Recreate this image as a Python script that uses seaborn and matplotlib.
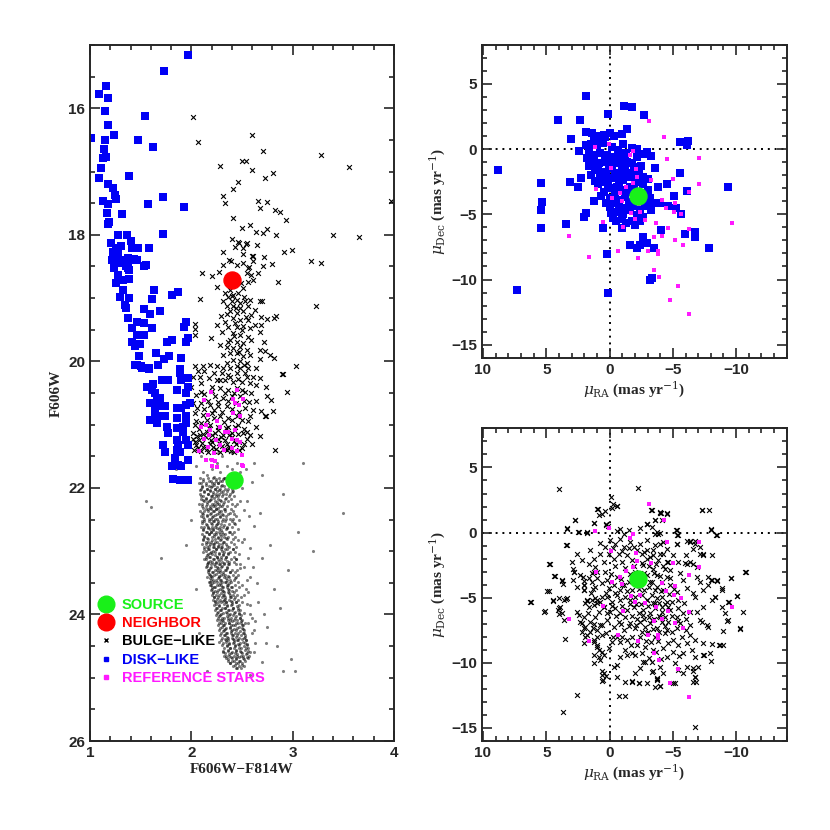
import numpy as np
import pandas as pd
import matplotlib
matplotlib.use('Agg')
import matplotlib.pyplot as plt
from matplotlib.ticker import MultipleLocator
from matplotlib.lines import Line2D
import seaborn as sns

# source / neighbor
src_col, src_mag = 2.42, 21.88
nb_col, nb_mag = 2.40, 18.71
src_pmra, src_pmdec = -2.26, -3.57

# disk-like stars in the CMD (color, mag)
disk_cmd = [
    (1.97, 15.16), (1.73, 15.41), (1.155, 15.65), (1.086, 15.78), (1.18, 15.84), (1.15, 16.04),
    (1.545, 16.12), (1.175, 16.26), (1.013, 16.47), (1.237, 16.42), (1.15, 16.5), (1.47, 16.5),
    (1.62, 16.61), (1.14, 16.64), (1.13, 16.79), (1.155, 16.77), (1.11, 16.95), (1.39, 17.07),
    (1.09, 17.1), (1.175, 17.2), (1.23, 17.26), (1.25, 17.37), (1.26, 17.44), (1.128, 17.46),
    (1.18, 17.52), (1.72, 17.41), (1.57, 17.52), (1.93, 17.56), (1.32, 17.67), (1.17, 17.66),
    (1.19, 17.8), (1.18, 17.83), (1.72, 17.99), (1.28, 18.01), (1.37, 18.0), (1.21, 18.13),
    (1.31, 18.18), (1.40, 18.1), (1.47, 18.21), (1.58, 18.21), (1.26, 18.21), (1.41, 18.21),
    (1.23, 18.27), (1.25, 18.29), (1.28, 18.29), (1.22, 18.4), (1.30, 18.4), (1.39, 18.4),
    (1.46, 18.4), (1.25, 18.42), (1.30, 18.45), (1.38, 18.37), (1.43, 18.39), (1.55, 18.48),
    (1.24, 18.5), (1.36, 18.5), (1.53, 18.5), (1.24, 18.53), (1.38, 18.53), (1.39, 18.55),
    (1.28, 18.63), (1.33, 18.71), (1.39, 18.70), (1.26, 18.76), (1.63, 18.88), (1.81, 18.95),
    (1.87, 18.91), (1.61, 19.02), (1.33, 18.87), (1.30, 18.98), (1.39, 19.0), (1.35, 19.11),
    (1.36, 19.16), (1.53, 19.18), (1.59, 19.25), (1.69, 19.21), (1.38, 19.32), (1.46, 19.37),
    (1.53, 19.40), (1.61, 19.47), (1.41, 19.47), (1.95, 19.37), (1.93, 19.45), (1.46, 19.58),
    (1.53, 19.58), (1.41, 19.69), (1.49, 19.72), (1.44, 19.76), (1.76, 19.70), (1.81, 19.67),
    (1.97, 19.63), (1.95, 19.70), (1.48, 19.91), (1.65, 19.86), (1.78, 19.91), (1.73, 19.97),
    (1.90, 19.95), (1.44, 20.06), (1.50, 20.08), (1.585, 20.11), (1.67, 20.06), (1.89, 20.12),
    (1.46, 20.06), (1.51, 20.11), (1.58, 20.12), (1.71, 20.29), (1.62, 20.35), (1.77, 20.29),
    (1.89, 20.19), (1.90, 20.29), (1.97, 20.27), (1.56, 20.40), (1.61, 20.45), (1.64, 20.50),
    (1.66, 20.58), (1.69, 20.58), (1.855, 20.45), (1.95, 20.50), (1.97, 20.40), (1.59, 20.66),
    (1.64, 20.69), (1.69, 20.71), (1.74, 20.71), (1.855, 20.74), (1.90, 20.74), (1.95, 20.69),
    (1.986, 20.66), (1.64, 20.82), (1.67, 20.87), (1.74, 20.87), (1.855, 20.90), (1.95, 20.87),
    (1.59, 20.92), (1.66, 20.98), (1.76, 21.03), (1.77, 21.13), (1.855, 21.06), (1.92, 21.03),
    (1.95, 20.98), (1.92, 21.11), (1.72, 21.32), (1.74, 21.43), (1.855, 21.24), (1.87, 21.32),
    (1.95, 21.24), (1.97, 21.32), (1.855, 21.40), (1.89, 21.43), (1.84, 21.53), (1.97, 21.56),
    (1.87, 21.64), (1.81, 21.66), (1.90, 21.66), (1.82, 21.86), (1.89, 21.87), (1.97, 21.87),
]

# bulge-like stars in the CMD
bulge_cmd = [
    (2.02, 16.14), (2.065, 16.53), (2.60, 16.42), (2.71, 16.67), (3.28, 16.74), (3.56, 16.93),
    (2.28, 16.92), (2.50, 16.84), (2.535, 16.84), (2.60, 16.98), (2.805, 17.02), (2.73, 17.1),
    (2.46, 17.16), (2.41, 17.27), (2.31, 17.38), (2.335, 17.49), (2.66, 17.46), (2.745, 17.48),
    (2.68, 17.57), (3.975, 17.46), (2.83, 17.61), (2.88, 17.64), (2.93, 17.76), (2.41, 17.74),
    (2.50, 17.89), (2.575, 17.84), (2.745, 17.91), (2.64, 17.96), (2.71, 17.97), (2.84, 18.0),
    (3.40, 18.01), (3.65, 18.03), (2.40, 18.07), (2.46, 18.11), (2.545, 18.13), (2.65, 18.16),
    (2.31, 18.27), (2.51, 18.21), (2.43, 18.19), (2.91, 18.27), (2.995, 18.24), (2.60, 18.34),
    (2.72, 18.35), (2.37, 18.40), (2.45, 18.48), (2.57, 18.51), (2.71, 18.49), (2.80, 18.46),
    (3.18, 18.41), (3.28, 18.45), (2.11, 18.6), (2.20, 18.65), (2.27, 18.59), (2.47, 18.13),
    (2.535, 18.14), (2.51, 18.30), (2.61, 18.34), (2.39, 18.41), (2.51, 18.44), (2.56, 18.53),
    (2.61, 18.42), (2.31, 18.47), (2.545, 18.60), (2.59, 18.63), (2.66, 18.61), (2.495, 18.76),
    (2.56, 18.74), (2.61, 18.71), (2.255, 18.82), (2.86, 18.74), (2.51, 18.84), (2.38, 18.87),
    (2.33, 18.92), (2.36, 18.98), (2.41, 18.95), (2.46, 18.92), (2.31, 19.05), (2.40, 19.05),
    (2.45, 19.03), (2.48, 19.08), (2.53, 19.05), (2.58, 19.03), (2.68, 19.05), (2.70, 19.05),
    (2.35, 19.13), (2.41, 19.13), (2.48, 19.16), (2.56, 19.13), (2.63, 19.19), (2.38, 19.21),
    (2.45, 19.24), (2.51, 19.21), (2.59, 19.26), (2.29, 19.28), (2.69, 19.30), (2.75, 19.33),
    (2.82, 19.31), (3.23, 19.12), (2.085, 19.02), (2.41, 19.32), (2.48, 19.34), (2.56, 19.34),
    (2.33, 19.37), (2.25, 19.42), (2.63, 19.42), (2.69, 19.42), (2.36, 19.45), (2.45, 19.46),
    (2.51, 19.44), (2.58, 19.48), (2.30, 19.53), (2.41, 19.55), (2.48, 19.58), (2.56, 19.61),
    (2.59, 19.66), (2.38, 19.66), (2.45, 19.69), (2.51, 19.71), (2.28, 19.74), (2.35, 19.77),
    (2.41, 19.79), (2.48, 19.77), (2.545, 19.82), (2.58, 19.90), (2.38, 19.87), (2.45, 19.87),
    (2.31, 19.90), (2.51, 19.92), (2.41, 19.98), (2.48, 20.0), (2.35, 20.03), (2.545, 20.03),
    (2.45, 20.07), (2.68, 19.53), (2.72, 19.69), (2.68, 19.82), (2.73, 19.84), (2.78, 19.90),
    (2.815, 19.95), (2.19, 19.63), (2.035, 19.41), (2.035, 19.49), (2.035, 19.58), (2.68, 19.97),
    (3.03, 20.07), (2.035, 20.07), (2.12, 20.07), (2.18, 20.05), (2.25, 20.08), (2.31, 20.11),
    (2.38, 20.11), (2.48, 20.11), (2.56, 20.11), (2.64, 20.11), (2.07, 20.16), (2.13, 20.16),
    (2.22, 20.19), (2.30, 20.19), (2.36, 20.21), (2.45, 20.19), (2.53, 20.19), (2.61, 20.24),
    (2.68, 20.27), (2.02, 20.25), (2.085, 20.24), (2.17, 20.27), (2.25, 20.29), (2.33, 20.29),
    (2.41, 20.32), (2.50, 20.32), (2.58, 20.34), (2.64, 20.38), (2.74, 20.41), (2.00, 20.40),
    (2.10, 20.34), (2.20, 20.40), (2.28, 20.42), (2.36, 20.45), (2.45, 20.42), (2.53, 20.48),
    (2.59, 20.50), (2.05, 20.53), (2.13, 20.51), (2.23, 20.55), (2.31, 20.58), (2.40, 20.55),
    (2.48, 20.55), (2.57, 20.65), (2.64, 20.63), (2.75, 20.54), (2.94, 20.48), (2.89, 20.20),
    (2.02, 20.66), (2.10, 20.66), (2.18, 20.69), (2.265, 20.71), (2.35, 20.71), (2.53, 20.74),
    (2.61, 20.77), (2.69, 20.79), (2.74, 20.87), (2.035, 20.82), (2.12, 20.84), (2.20, 20.82),
    (2.28, 20.87), (2.36, 20.90), (2.45, 20.87), (2.58, 20.87), (2.035, 21.0), (2.10, 20.98),
    (2.18, 21.0), (2.265, 21.03), (2.36, 21.03), (2.46, 21.0), (2.56, 20.95), (2.64, 21.03),
    (2.02, 21.13), (2.085, 21.16), (2.15, 21.11), (2.23, 21.13), (2.31, 21.16), (2.40, 21.13),
    (2.51, 21.13), (2.58, 21.16), (2.68, 21.18), (2.79, 20.61), (2.02, 21.22), (2.08, 21.25),
    (2.14, 21.2), (2.20, 21.27), (2.26, 21.22), (2.33, 21.25), (2.40, 21.2), (2.47, 21.28),
    (2.55, 21.23), (2.05, 21.32), (2.12, 21.35), (2.18, 21.3), (2.24, 21.38), (2.30, 21.33),
    (2.37, 21.36), (2.44, 21.31), (2.50, 21.37), (2.03, 21.4), (2.10, 21.42), (2.16, 21.44),
    (2.22, 21.41), (2.28, 21.43), (2.35, 21.4), (2.42, 21.44), (2.60, 21.3), (2.83, 21.4),
    (2.73, 20.87), (2.81, 20.78), (2.90, 20.2), (2.84, 19.29),
    (2.05, 20.95), (2.15, 20.93), (2.22, 20.9), (2.32, 20.96), (2.40, 20.93), (2.50, 20.92),
    (2.08, 21.07), (2.17, 21.05), (2.26, 21.08), (2.34, 21.06), (2.43, 21.04), (2.52, 21.07),
    (2.06, 21.18), (2.12, 21.14), (2.20, 21.17), (2.29, 21.19), (2.37, 21.17), (2.46, 21.15),
    (2.55, 21.12), (2.04, 21.28), (2.11, 21.29), (2.19, 21.24), (2.27, 21.29), (2.35, 21.3),
    (2.42, 21.26), (2.52, 21.3), (2.07, 21.37), (2.15, 21.39), (2.21, 21.35), (2.33, 21.38),
    (2.39, 21.41), (2.47, 21.4), (2.13, 20.75), (2.22, 20.77), (2.30, 20.8), (2.40, 20.76),
    (2.47, 20.8), (2.06, 20.74), (2.16, 20.62), (2.26, 20.64), (2.36, 20.62), (2.44, 20.66),
    (2.52, 20.62), (2.10, 20.48), (2.20, 20.47), (2.33, 20.5), (2.42, 20.5), (2.50, 20.45),
    (2.28, 20.3), (2.38, 20.25), (2.46, 20.28), (2.55, 20.25), (2.42, 19.6), (2.36, 19.7),
    (2.50, 19.5), (2.43, 19.4), (2.54, 19.3), (2.44, 19.15), (2.40, 18.97), (2.52, 18.98),
    (2.35, 19.25), (2.47, 19.85), (2.52, 20.05),
]

# reference stars in the CMD
ref_cmd = [
    (2.19, 20.49), (2.13, 20.61), (2.45, 20.45), (2.41, 20.60), (2.43, 20.66), (2.51, 20.60),
    (2.47, 20.69), (2.167, 20.845), (2.25, 20.95), (2.144, 21.0), (2.18, 21.08), (2.10, 21.03),
    (2.41, 20.82), (2.48, 20.87), (2.28, 21.03), (2.33, 21.11), (2.36, 21.11), (2.43, 21.08),
    (2.17, 21.16), (2.24, 21.24), (2.13, 21.23), (2.28, 21.32), (2.40, 21.23), (2.45, 21.24),
    (2.48, 21.27), (2.16, 21.36), (2.08, 21.42), (2.22, 21.45), (2.32, 21.40), (2.40, 21.37),
    (2.45, 21.42), (2.50, 21.48), (2.20, 21.56), (2.144, 21.56), (2.23, 21.58), (2.20, 21.65),
    (2.25, 21.67), (2.50, 21.63), (2.51, 21.66),
]

# faint field stars: (mag, colors at that mag)
field_rows = [
    (21.86, [2.12, 2.24, 2.31]), (21.89, [2.17, 2.28]), (21.92, [2.10, 2.20, 2.26, 2.36]),
    (21.95, [2.14, 2.22, 2.30]), (21.98, [2.11, 2.19, 2.25]), (22.01, [2.15, 2.23, 2.33]),
    (22.04, [2.09, 2.18, 2.27]), (22.07, [2.13, 2.21, 2.29, 2.40]), (22.10, [2.16, 2.24, 2.31]),
    (22.13, [2.10, 2.19, 2.26]), (22.16, [2.14, 2.22, 2.34]), (22.19, [2.12, 2.18, 2.28]),
    (22.22, [2.15, 2.25, 2.32]), (22.25, [2.11, 2.20, 2.27, 2.45]), (22.28, [2.14, 2.23, 2.30]),
    (22.31, [2.12, 2.18, 2.26]), (22.34, [2.16, 2.24, 2.33]), (22.37, [2.13, 2.21, 2.29]),
    (22.40, [2.11, 2.19, 2.27, 2.38]), (22.43, [2.15, 2.23, 2.31]), (22.46, [2.12, 2.20, 2.28]),
    (22.49, [2.17, 2.25, 2.34]), (22.52, [2.13, 2.21, 2.30]), (22.55, [2.11, 2.19, 2.26, 2.42]),
    (22.58, [2.15, 2.24, 2.32]), (22.61, [2.13, 2.20, 2.28]), (22.64, [2.16, 2.25, 2.35]),
    (22.67, [2.12, 2.21, 2.29]), (22.70, [2.14, 2.19, 2.27, 2.37]), (22.73, [2.17, 2.24, 2.31]),
    (22.76, [2.13, 2.22, 2.29]), (22.79, [2.15, 2.26, 2.34]), (22.82, [2.12, 2.20, 2.28, 2.46]),
    (22.85, [2.16, 2.23, 2.32]), (22.88, [2.14, 2.21, 2.30]), (22.91, [2.17, 2.26, 2.35]),
    (22.94, [2.13, 2.22, 2.29]), (22.97, [2.16, 2.24, 2.33, 2.41]), (23.00, [2.14, 2.21, 2.30]),
    (23.03, [2.18, 2.27, 2.36]), (23.06, [2.15, 2.23, 2.31]), (23.09, [2.17, 2.25, 2.34]),
    (23.12, [2.14, 2.22, 2.29, 2.44]), (23.15, [2.18, 2.27, 2.35]), (23.18, [2.16, 2.24, 2.32]),
    (23.21, [2.19, 2.28, 2.37]), (23.24, [2.15, 2.23, 2.30]), (23.27, [2.18, 2.26, 2.35, 2.48]),
    (23.30, [2.16, 2.25, 2.33]), (23.33, [2.20, 2.28, 2.38]), (23.36, [2.17, 2.24, 2.31]),
    (23.39, [2.19, 2.27, 2.36]), (23.42, [2.18, 2.26, 2.34, 2.43]), (23.45, [2.21, 2.29, 2.38]),
    (23.48, [2.18, 2.25, 2.33]), (23.51, [2.20, 2.28, 2.37]), (23.54, [2.19, 2.27, 2.35, 2.50]),
    (23.57, [2.22, 2.30, 2.39]), (23.60, [2.20, 2.28, 2.36]), (23.63, [2.23, 2.31, 2.40]),
    (23.66, [2.21, 2.29, 2.37]), (23.69, [2.24, 2.32, 2.41, 2.52]), (23.72, [2.22, 2.30, 2.38]),
    (23.75, [2.25, 2.33, 2.42]), (23.78, [2.23, 2.31, 2.39]), (23.81, [2.26, 2.34, 2.44]),
    (23.84, [2.24, 2.32, 2.40, 2.55]), (23.87, [2.27, 2.35, 2.45]), (23.90, [2.25, 2.33, 2.41]),
    (23.93, [2.28, 2.37, 2.46]), (23.96, [2.26, 2.34, 2.43]), (23.99, [2.29, 2.38, 2.47, 2.58]),
    (24.02, [2.27, 2.35, 2.44]), (24.05, [2.30, 2.39, 2.48]), (24.08, [2.28, 2.36, 2.45]),
    (24.11, [2.31, 2.40, 2.49]), (24.14, [2.29, 2.37, 2.46, 2.56]), (24.17, [2.32, 2.41, 2.50]),
    (24.20, [2.30, 2.38, 2.47]), (24.23, [2.33, 2.42, 2.51]), (24.26, [2.31, 2.39, 2.48]),
    (24.29, [2.34, 2.43, 2.52, 2.60]), (24.32, [2.32, 2.40, 2.49]), (24.35, [2.35, 2.44, 2.53]),
    (24.38, [2.33, 2.41, 2.50]), (24.41, [2.36, 2.45, 2.54]), (24.44, [2.27, 2.34, 2.42, 2.51]),
    (24.47, [2.37, 2.46, 2.55]), (24.50, [2.35, 2.43, 2.52]), (24.53, [2.38, 2.47, 2.56]),
    (24.56, [2.36, 2.44, 2.53]), (24.59, [2.31, 2.40, 2.49, 2.58]), (24.62, [2.37, 2.45, 2.54]),
    (24.65, [2.34, 2.42, 2.51]), (24.68, [2.39, 2.47, 2.55]), (24.71, [2.36, 2.44, 2.52]),
    (24.74, [2.40, 2.48]), (24.77, [2.38, 2.46]), (24.80, [2.43, 2.50]), (24.84, [2.45]),
    (21.85, [2.09, 2.16, 2.21, 2.27, 2.33, 2.39]), (21.89, [2.12, 2.19, 2.24, 2.30, 2.38]),
    (21.93, [2.08, 2.14, 2.22, 2.26, 2.35, 2.41]), (21.97, [2.11, 2.17, 2.20, 2.29, 2.32, 2.37]),
    (22.01, [2.10, 2.15, 2.23, 2.28, 2.36, 2.40]), (22.05, [2.13, 2.18, 2.25, 2.31, 2.35, 2.41]),
    (22.09, [2.09, 2.16, 2.21, 2.27, 2.34, 2.38]), (22.13, [2.12, 2.20, 2.24, 2.30, 2.37, 2.42]),
    (22.17, [2.10, 2.14, 2.19, 2.26, 2.33, 2.39]), (22.21, [2.13, 2.17, 2.23, 2.29, 2.36, 2.48]),
    (22.25, [2.08, 2.15, 2.22, 2.25, 2.31, 2.40]), (22.29, [2.11, 2.18, 2.21, 2.28, 2.35, 2.43]),
    (22.33, [2.14, 2.19, 2.24, 2.32, 2.39]), (22.37, [2.09, 2.16, 2.22, 2.27, 2.33, 2.41]),
    (22.41, [2.12, 2.18, 2.25, 2.30, 2.36, 2.42]), (22.45, [2.10, 2.15, 2.21, 2.28, 2.34, 2.44]),
    (22.49, [2.13, 2.19, 2.23, 2.31, 2.38, 2.41]), (22.53, [2.11, 2.17, 2.22, 2.26, 2.33, 2.40]),
    (22.57, [2.14, 2.20, 2.25, 2.29, 2.37, 2.43]), (22.61, [2.10, 2.16, 2.23, 2.31, 2.35, 2.40]),
    (22.65, [2.12, 2.18, 2.21, 2.27, 2.34, 2.46]), (22.69, [2.15, 2.19, 2.24, 2.30, 2.38, 2.42]),
    (22.73, [2.11, 2.17, 2.22, 2.28, 2.33, 2.40]), (22.77, [2.13, 2.20, 2.26, 2.32, 2.36, 2.43]),
    (22.81, [2.12, 2.16, 2.23, 2.29, 2.35, 2.41]), (22.85, [2.14, 2.19, 2.25, 2.31, 2.39, 2.50]),
    (22.89, [2.11, 2.18, 2.22, 2.27, 2.34, 2.42]), (22.93, [2.15, 2.21, 2.26, 2.30, 2.37, 2.44]),
    (22.97, [2.13, 2.17, 2.24, 2.29, 2.35, 2.41]), (23.01, [2.12, 2.19, 2.23, 2.32, 2.38, 2.43]),
    (23.05, [2.16, 2.20, 2.27, 2.31, 2.36, 2.47]), (23.09, [2.14, 2.18, 2.25, 2.29, 2.34, 2.42]),
    (23.13, [2.13, 2.21, 2.26, 2.33, 2.39, 2.44]), (23.17, [2.16, 2.20, 2.24, 2.30, 2.37, 2.42]),
    (23.21, [2.15, 2.22, 2.27, 2.32, 2.36, 2.44]), (23.25, [2.14, 2.19, 2.25, 2.29, 2.35, 2.52]),
    (23.29, [2.17, 2.23, 2.28, 2.34, 2.40, 2.45]), (23.33, [2.16, 2.21, 2.26, 2.31, 2.38, 2.43]),
    (23.37, [2.18, 2.22, 2.29, 2.33, 2.41, 2.46]), (23.41, [2.15, 2.20, 2.27, 2.32, 2.37, 2.44]),
    (23.45, [2.19, 2.24, 2.28, 2.35, 2.42, 2.55]), (23.49, [2.17, 2.22, 2.30, 2.34, 2.39, 2.46]),
    (23.53, [2.18, 2.25, 2.29, 2.36, 2.43]), (23.57, [2.20, 2.23, 2.31, 2.35, 2.40, 2.47]),
    (23.61, [2.19, 2.26, 2.30, 2.37, 2.44]), (23.65, [2.21, 2.25, 2.32, 2.36, 2.42, 2.56]),
    (23.69, [2.20, 2.27, 2.31, 2.38, 2.45]), (23.73, [2.22, 2.26, 2.33, 2.39, 2.43, 2.49]),
    (23.77, [2.21, 2.28, 2.32, 2.37, 2.46]), (23.81, [2.23, 2.29, 2.34, 2.40, 2.44, 2.50]),
    (23.85, [2.22, 2.27, 2.35, 2.39, 2.47, 2.58]), (23.89, [2.24, 2.30, 2.33, 2.41, 2.46]),
    (23.93, [2.23, 2.29, 2.36, 2.40, 2.48]), (23.97, [2.25, 2.31, 2.35, 2.42, 2.47, 2.52]),
    (24.01, [2.24, 2.28, 2.37, 2.41, 2.49]), (24.05, [2.26, 2.32, 2.36, 2.43, 2.48, 2.60]),
    (24.09, [2.25, 2.30, 2.38, 2.42, 2.50]), (24.13, [2.27, 2.33, 2.37, 2.44, 2.49, 2.53]),
    (24.17, [2.26, 2.31, 2.39, 2.43, 2.51]), (24.21, [2.28, 2.34, 2.38, 2.45, 2.50]),
    (24.25, [2.27, 2.32, 2.40, 2.44, 2.52, 2.62]), (24.29, [2.29, 2.35, 2.39, 2.46, 2.51]),
    (24.33, [2.28, 2.33, 2.41, 2.45, 2.53]), (24.37, [2.30, 2.36, 2.40, 2.47, 2.52]),
    (24.41, [2.29, 2.34, 2.42, 2.46, 2.54]), (24.45, [2.31, 2.37, 2.41, 2.48, 2.53, 2.63]),
    (24.49, [2.30, 2.35, 2.43, 2.47, 2.55]), (24.53, [2.32, 2.38, 2.42, 2.49, 2.54]),
    (24.57, [2.31, 2.36, 2.44, 2.48, 2.56]), (24.61, [2.33, 2.39, 2.43, 2.50, 2.55]),
    (24.65, [2.32, 2.37, 2.45, 2.49, 2.57]), (24.69, [2.34, 2.40, 2.44, 2.51, 2.56]),
    (24.73, [2.36, 2.42, 2.47, 2.53]), (24.77, [2.38, 2.44, 2.50]), (24.81, [2.41, 2.47, 2.52]),
    (24.85, [2.44, 2.49]),
]
field_sparse = [
    (2.55, 22.2), (2.62, 22.6), (2.70, 23.1), (2.58, 23.4), (2.66, 23.8), (2.75, 24.2), (2.62, 24.6),
    (2.70, 24.75), (2.85, 24.5), (2.90, 24.9), (2.50, 22.0), (2.45, 21.95), (2.60, 21.9), (2.68, 22.4),
    (2.78, 22.9), (2.82, 23.6), (2.72, 24.0), (2.95, 23.3), (3.2, 23.0), (3.5, 22.4), (1.6, 22.3),
    (1.55, 22.2), (1.7, 23.1), (2.05, 23.6), (2.0, 22.5), (2.08, 24.3), (2.15, 24.9), (2.58, 24.95),
    (2.98, 24.7), (3.02, 24.9), (2.56, 23.1), (2.52, 22.8), (2.65, 23.5), (2.48, 23.2), (2.9, 22.1),
    (3.05, 22.7), (2.88, 23.9), (2.74, 24.45), (1.95, 22.9), (1.85, 21.7), (2.62, 21.6), (2.54, 21.7),
    (2.7, 21.8), (3.1, 21.6), (2.1, 21.5), (2.18, 21.55), (2.25, 21.6), (2.3, 21.5), (2.35, 21.65),
    (2.2, 21.7), (2.28, 21.75), (2.15, 21.8), (2.4, 21.7), (2.45, 21.6), (2.38, 21.8), (2.05, 21.65),
    (2.12, 21.75), (2.22, 21.82), (2.32, 21.85), (2.48, 21.75), (2.08, 21.4), (2.26, 21.45), (2.4, 21.45),
    (2.52, 22.35), (2.58, 22.95), (2.61, 23.25), (2.54, 23.6), (2.63, 24.1), (2.47, 22.5), (2.57, 22.45),
]

# proper motions (mu_RA, mu_Dec)
disk_pm = [
    (1.89, 4.11), (4.09, 2.22), (2.31, 2.22), (0.16, 2.68), (-1.16, 3.32), (-1.81, 3.24), (-2.76, 2.58),
    (-1.37, 1.58), (-0.97, 1.15), (1.84, 1.33), (1.39, 1.25), (3.07, 0.74), (2.39, -0.13), (1.84, 0.33),
    (1.45, 0.43), (1.0, 0.82), (0.73, 1.0), (0.47, 1.07), (0.34, 0.94), (-0.37, 1.0), (-1.1, 0.43),
    (-5.57, 0.56), (-6.22, 0.64), (-6.09, 0.31), (-1.76, 0.05), (-2.16, -0.02), (-2.94, -0.2),
    (-3.28, -0.53), (-2.81, -0.38), (-2.18, -0.58), (1.78, -0.71), (1.26, -0.46), (0.73, -0.33),
    (0.21, -0.46), (-0.32, -0.58), (-0.84, -0.46), (-1.24, -0.38), (1.39, -0.97), (0.86, -1.1),
    (0.34, -0.97), (-0.18, -1.22), (-0.71, -1.1), (-1.37, -0.97), (-1.76, -1.1), (-3.6, -1.43),
    (-5.57, -1.81), (1.13, -1.61), (0.6, -1.73), (0.08, -1.48), (-0.45, -1.86), (-0.97, -1.61),
    (-1.5, -1.86), (-2.02, -1.73), (-2.29, -1.91), (-2.68, -2.12), (-3.07, -2.32), (2.26, -2.24),
    (1.13, -2.42), (0.76, -2.12), (0.34, -2.5), (-0.18, -2.24), (-0.71, -2.62), (-1.1, -2.37),
    (-1.63, -2.12), (-2.16, -2.5), (3.12, -2.55), (2.49, -2.88), (-3.86, -2.88), (-4.52, -2.68),
    (-6.09, -3.19), (-9.37, -2.88), (0.47, -3.26), (-0.05, -3.01), (-0.58, -2.88), (-0.97, -3.14),
    (-1.63, -2.88), (-2.68, -2.68), (-3.07, -3.14), (1.26, -3.98), (-0.05, -3.77), (-0.58, -3.9),
    (-1.24, -3.65), (-1.63, -4.03), (-3.2, -3.77), (-3.73, -4.1), (-5.12, -3.57), (-3.99, -4.16),
    (-0.05, -4.41), (-0.71, -4.28), (-1.37, -4.54), (-1.89, -4.36), (-2.42, -4.67), (-3.2, -4.28),
    (-4.6, -4.33), (-5.25, -4.54), (-5.62, -4.97), (1.89, -4.92), (2.05, -5.18), (-0.08, -4.87),
    (-0.58, -4.79), (-1.1, -4.97), (-1.63, -4.67), (-2.16, -5.05), (-2.68, -5.18), (5.33, -4.08),
    (5.41, -4.69), (5.43, -2.6), (5.38, -6.02), (3.41, -5.76), (0.52, -6.04), (-0.5, -5.48),
    (-0.97, -5.38), (-1.76, -5.48), (-2.42, -5.48), (-0.97, -6.04), (-4.07, -6.2), (-5.99, -6.48),
    (-6.75, -6.32), (-6.77, -6.71), (-2.68, -6.71), (-1.63, -7.39), (-2.16, -7.6), (-2.42, -7.34),
    (-2.99, -7.22), (-3.52, -7.6), (-7.88, -7.55), (0.21, -8.08), (-3.2, -10.02), (-3.34, -9.89),
    (0.1, -11.01), (7.3, -10.84), (8.84, -1.6),
    (1.6, -0.2), (1.0, 0.3), (0.5, 0.5), (-0.2, 0.2), (-0.7, -0.1), (-1.3, -0.3), (1.6, -1.3),
    (0.9, -1.4), (0.3, -1.9), (-0.2, -0.7), (-0.8, -0.8), (-1.2, -1.5), (-1.9, -1.4), (-2.5, -1.3),
    (1.5, -2.0), (0.9, -2.7), (0.1, -2.7), (-0.4, -3.3), (-1.3, -3.3), (-1.9, -3.1), (-2.0, -2.3),
    (0.7, -3.6), (0.3, -4.1), (-0.3, -4.1), (-1.0, -4.6), (-1.5, -4.2), (-2.0, -3.9), (-2.8, -4.4),
    (-3.3, -4.7), (-0.3, -5.3), (-1.3, -5.7), (-2.0, -5.8), (0.4, -0.9), (1.2, 0.9), (0.0, 1.2),
    (-0.5, -2.0), (-1.0, -2.0), (0.6, -2.4), (-2.5, -3.4), (-3.0, -3.9),
]

ref_pm = [
    (-3.13, 2.17), (-4.28, 0.95), (0.05, 0.38), (1.18, 0.13), (-1.89, -0.13), (-1.63, -0.43),
    (-4.54, -0.76), (-7.09, -0.71), (-0.11, -1.43), (-2.08, -1.53), (-2.16, -2.17), (-3.29, -2.37),
    (-4.99, -2.3), (-7.09, -2.68), (-1.89, -2.63), (-1.26, -2.93), (1.04, -3.06), (-0.79, -3.39),
    (-0.19, -3.77), (-1.0, -3.95), (-2.31, -4.21), (-4.18, -3.9), (-4.47, -4.49), (-5.17, -4.1),
    (-6.25, -3.29), (-1.71, -4.87), (-2.42, -4.79), (-5.09, -4.79), (-5.64, -4.99), (-2.02, -5.35),
    (-2.81, -5.43), (-3.68, -5.69), (-9.66, -5.69), (0.55, -5.61), (-1.05, -5.99), (-4.62, -6.02),
    (-6.28, -6.12), (-4.15, -6.63), (3.23, -6.63), (-3.52, -6.76), (-5.17, -6.96), (-5.77, -7.32),
    (-0.69, -7.85), (-3.02, -7.85), (-3.81, -7.85), (-3.86, -8.06), (1.63, -8.31), (-2.23, -8.36),
    (-3.55, -9.25), (-3.94, -9.77), (-5.38, -10.5), (-4.81, -11.55), (-6.3, -12.62),
]

bulge_pm = [
    (4.01, 3.31), (-2.21, 3.44), (-0.11, 2.73), (-0.27, 2.22), (0.34, 1.63), (0.86, 1.38), (0.99, 1.84),
    (-0.58, 2.04), (-3.28, 1.71), (-3.99, 1.58), (-4.52, 1.53), (-7.33, 1.76), (-7.88, 1.71), (2.75, 0.99),
    (1.23, 0.74), (3.36, 0.36), (2.49, 0.05), (1.78, 0.05), (0.26, 0.56), (-2.94, 0.69), (-2.37, 0.36),
    (-5.3, 0.18), (-8.01, 0.25), (-8.4, -0.21), (-3.6, -0.08), (-4.0, 0.0), (3.36, -0.92), (4.75, -2.42),
    (4.33, -3.34), (3.75, -3.7), (3.7, -3.95), (2.88, -2.81), (2.83, -3.01), (4.8, -4.49), (4.49, -5.23),
    (6.32, -5.3), (5.12, -6.02), (4.01, -5.76), (3.96, -6.27), (3.41, -5.08), (3.49, -8.16), (3.62, -6.71),
    (2.57, -12.45), (3.67, -13.77), (-6.75, -14.94), (-0.71, -12.57), (-1.24, -12.52), (0.6, -10.9),
    (0.52, -11.3), (-1.81, -11.42), (-2.34, -11.55), (-3.73, -11.25), (-4.0, -11.8), (-3.6, -11.86),
    (-5.17, -11.55), (-6.75, -11.12), (-6.8, -11.47), (-5.83, -10.79), (-6.62, -10.4), (-7.93, -9.26),
    (-7.4, -9.39), (-8.01, -9.89), (-8.06, -8.57), (-8.72, -8.62), (-8.93, -8.62), (-8.85, -5.69),
    (-9.11, -6.2), (-9.37, -5.3), (-10.03, -4.87), (-10.69, -3.06), (-9.58, -3.52), (-10.29, -7.34),
    (-10.56, -6.12), (-9.32, -6.71), (-8.32, -4.92), (-8.85, -4.28), (-7.8, -4.03), (-8.01, -3.65),
    (-8.51, -3.7), (-7.4, -1.74), (-7.14, -1.61), (-6.62, -1.23), (-6.36, -0.66), (-6.75, -0.66),
    (-7.14, -1.1), (-5.96, -2.37), (-6.36, -2.24), (-6.88, -2.63), (-5.3, -0.84), (-5.44, -0.21),
    (1.26, -3.01), (1.39, -3.14), (0.99, -3.01), (2.12, -3.39), (2.05, -3.7), (2.0, -4.03), (2.0, -4.41),
    (2.57, -6.07), (2.05, -6.45), (2.18, -6.96), (2.05, -7.35), (1.78, -7.85), (1.26, -8.24), (0.99, -8.62),
    (0.86, -9.0), (1.26, -9.39), (0.73, -9.77), (1.78, -5.23), (1.26, -5.56), (0.99, -5.18), (0.6, -4.92),
    (0.47, -5.69), (0.86, -6.07), (1.52, -6.83), (1.13, -6.45), (1.34, -7.35), (0.6, -7.09), (0.6, -7.85),
    (0.99, -7.98), (0.94, 1.78), (0.57, 1.4), (-0.19, 1.91), (-0.58, 2.01), (2.7, 0.99), (1.2, 0.74),
    (0.26, 0.69), (0.15, 0.48), (3.36, 0.3), (2.44, 0.05), (1.78, -0.03), (-0.58, 0.12), (-0.85, 0.3),
    (-1.11, -0.08), (-1.5, 0.18), (-2.95, 0.69), (-3.34, 0.43), (-3.73, 0.02), (-4.0, 1.5), (-4.52, 1.45),
    (-3.6, 0.99), (0.73, -0.79), (0.34, -1.1), (-0.06, -0.59), (-0.45, -0.85), (-0.85, -0.46), (-1.11, -1.1),
    (-1.63, -0.72), (-1.9, -1.1), (-2.42, -0.85), (-2.95, -0.59), (-3.6, -0.97), (-3.99, -0.85),
    (-4.52, -1.23), (3.41, -0.92), (2.57, -1.61), (2.17, -2.12), (1.52, -1.36), (1.26, -1.99), (1.65, -2.38),
    (1.12, -2.63), (0.73, -1.61), (0.47, -2.25), (0.07, -1.61), (-0.32, -1.99), (-0.71, -1.61), (-0.98, -2.25),
    (-1.37, -1.74), (-1.76, -2.12), (-2.55, -1.61), (-2.95, -1.99), (-3.47, -1.74), (-3.86, -2.12),
    (-4.26, -1.61), (-4.65, -2.25), (4.67, -2.38), (4.41, -3.34), (3.75, -3.65), (2.96, -2.25), (2.83, -3.01),
    (2.88, -3.65), (2.3, -3.27), (1.65, -3.52), (1.39, -3.78), (1.0, -3.52), (1.12, -4.16), (0.6, -3.9),
    (0.21, -3.65), (0.07, -4.29), (-0.32, -4.03), (-0.58, -3.4), (-0.85, -4.41), (-1.11, -4.03), (-1.5, -3.78),
    (-2.95, -3.27), (-3.34, -3.78), (-3.73, -3.27), (-4.13, -3.78), (-4.52, -3.4), (-4.78, -2.89),
    (2.04, -4.03), (2.04, -4.41), (1.31, -4.36), (1.78, -5.18), (1.12, -5.05), (0.73, -5.31), (0.21, -4.93),
    (-0.19, -5.31), (-0.58, -4.8), (-0.85, -5.18), (-1.24, -4.93), (-1.63, -5.18), (-2.03, -4.93),
    (-2.55, -4.8), (-2.95, -5.18), (-3.34, -4.8), (-3.73, -5.05), (-4.13, -4.93), (-4.52, -5.31),
    (6.24, -5.31), (5.19, -6.07), (4.93, -4.47), (4.48, -5.18), (4.01, -5.05), (3.62, -5.18), (3.36, -5.05),
    (3.88, -5.69), (4.09, -5.95), (3.75, -6.2), (2.44, -6.33), (1.91, -5.44), (1.65, -5.69), (1.39, -5.18),
    (1.0, -5.44), (0.47, -5.69), (-0.06, -6.07), (-0.45, -5.82), (-0.85, -6.2), (-1.37, -5.95), (-1.9, -5.69),
    (-2.29, -6.2), (-2.68, -5.95), (-3.21, -6.2), (-3.6, -5.82), (-4.13, -6.07), (-4.65, -5.69),
    (2.3, -6.84), (1.91, -7.22), (2.17, -7.6), (1.91, -7.99), (2.04, -8.5), (1.52, -7.6), (1.0, -7.48),
    (0.73, -7.09), (1.26, -8.37), (0.21, -6.71), (-0.32, -7.22), (-0.71, -6.84), (-1.11, -7.48),
    (-1.63, -6.97), (-2.03, -7.35), (-2.42, -6.84), (-2.81, -7.22), (-3.21, -6.97), (-3.73, -7.35),
    (-4.13, -6.84), (-4.52, -7.48), (1.0, -8.75), (0.6, -9.13), (0.86, -9.52), (0.47, -9.39), (0.07, -8.88),
    (-0.19, -8.37), (-0.58, -7.99), (-0.85, -8.37), (-1.37, -8.24), (-1.76, -7.99), (-2.16, -8.62),
    (-2.55, -9.26), (-2.81, -9.9), (-3.08, -9.64), (-3.34, -9.9), (-2.42, -10.41), (-3.47, -10.66),
    (-4.0, -10.28), (-4.52, -9.52), (1.26, -10.03), (0.6, -10.66), (0.26, -10.99), (-0.32, -10.28),
    (-0.58, -10.15), (-0.85, -9.52), (-1.37, -9.39), (-1.76, -9.26), (-2.03, -10.79), (-0.58, -11.05),
    (-1.19, -11.5), (-1.76, -11.5), (-2.29, -11.56), (-3.73, -11.17), (-3.99, -11.81), (0.6, -11.43),
    (0.47, -10.79), (-3.34, 1.7), (-3.6, 0.99), (-4.05, 1.53), (-4.13, 0.99), (-2.95, 0.69),
    (-7.28, 1.7), (-8.01, 0.17), (-8.46, -0.21), (-5.26, 0.17), (-5.31, -0.21), (-3.86, -0.08),
    (-4.26, -0.72), (-5.31, -0.85), (-6.36, -0.72), (-6.75, -0.85), (-6.1, -0.64), (-7.35, -1.61),
    (-8.06, -1.74), (-2.95, -1.36), (-3.47, -1.36), (-4.0, -1.61), (-4.52, -2.25), (-5.05, -1.74),
    (-5.44, -2.25), (-6.1, -2.38), (-6.62, -2.38), (-6.04, -1.74), (-2.68, -2.5), (-3.47, -2.76),
    (-4.39, -2.76), (-5.57, -3.14), (-5.83, -3.65), (-6.88, -3.4), (-7.15, -3.78), (-7.8, -3.4),
    (-8.06, -3.65), (-8.51, -3.65), (-9.56, -3.52), (-10.77, -3.01), (-3.21, -3.78), (-3.73, -4.16),
    (-4.26, -4.41), (-4.78, -4.03), (-5.31, -4.54), (-6.1, -4.29), (-6.62, -4.67), (-7.41, -4.41),
    (-6.75, -4.93), (-8.85, -4.41), (-10.03, -4.85), (-9.46, -5.31), (-2.95, -5.18), (-3.6, -5.44),
    (-4.13, -5.69), (-4.78, -5.95), (-5.44, -5.82), (-5.83, -6.2), (-6.36, -6.07), (-6.88, -6.07),
    (-7.41, -5.69), (-8.06, -5.18), (-8.33, -4.93), (-2.68, -6.33), (-3.34, -6.71), (-4.0, -6.46),
    (-4.65, -6.84), (-5.31, -6.46), (-5.57, -6.97), (-6.36, -7.09), (-7.15, -6.71), (-7.28, -6.84),
    (-7.67, -7.09), (-7.8, -7.22), (-9.3, -6.76), (-8.93, -7.53), (-10.3, -7.42), (-2.95, -7.73),
    (-3.6, -7.99), (-4.39, -7.73), (-5.05, -8.24), (-5.7, -7.99), (-6.36, -7.86), (-6.75, -8.24),
    (-7.41, -8.44), (-8.67, -8.62), (-2.81, -8.75), (-3.47, -9.0), (-4.26, -8.88), (-5.05, -9.13),
    (-5.83, -9.26), (-6.49, -9.0), (-6.75, -9.52), (-7.46, -9.39), (-2.68, -9.9), (-3.34, -10.74),
    (-4.26, -10.79), (-5.18, -10.03), (-5.44, -10.54), (-6.1, -10.28), (-6.62, -10.66), (-7.01, -10.28),
    (-6.75, -11.05), (-3.73, -11.3), (-5.05, -11.56), (-6.62, -11.5), (-2.95, -11.56),
    (-0.3, -1.2), (-1.0, -1.4), (-1.5, -1.2), (-2.2, -1.3), (-2.7, -1.5), (-3.2, -1.9), (-0.4, -2.6),
    (-1.2, -2.7), (-1.9, -2.6), (-2.6, -2.3), (-3.1, -2.6), (-3.7, -2.4), (-4.2, -2.6), (0.4, -3.0),
    (-0.1, -3.2), (-0.9, -3.6), (-1.6, -3.2), (-2.0, -3.0), (-2.7, -3.1), (-3.5, -3.1), (-4.0, -3.3),
    (-4.8, -3.5), (0.3, -4.6), (-0.4, -4.6), (-1.0, -4.0), (-1.4, -4.5), (-1.8, -4.4), (-2.3, -4.3),
    (-2.7, -4.4), (-3.1, -4.2), (-3.6, -4.4), (-4.1, -4.5), (-4.7, -4.7), (-5.1, -4.3), (-0.2, -5.6),
    (-1.0, -5.6), (-1.6, -5.5), (-2.1, -5.5), (-2.5, -5.5), (-3.0, -5.6), (-3.4, -5.4), (-3.9, -5.4),
    (-4.4, -5.5), (-4.9, -5.3), (-5.4, -5.2), (-5.9, -5.4), (-0.5, -6.4), (-1.2, -6.5), (-1.8, -6.4),
    (-2.2, -6.6), (-2.7, -6.6), (-3.1, -6.5), (-3.5, -6.6), (-3.9, -6.4), (-4.4, -6.5), (-4.9, -6.4),
    (-5.4, -6.8), (-6.0, -6.6), (-0.9, -7.0), (-1.5, -7.2), (-2.1, -7.1), (-2.6, -7.6), (-3.0, -7.6),
    (-3.4, -7.4), (-3.9, -7.6), (-4.4, -7.2), (-4.9, -7.6), (-5.3, -7.3), (-6.0, -7.5), (-0.3, -8.0),
    (-1.0, -8.0), (-1.7, -8.6), (-2.4, -8.0), (-2.9, -8.3), (-3.3, -8.4), (-3.8, -8.3), (-4.6, -8.5),
    (-5.4, -8.6), (-6.1, -8.5), (-1.2, -9.0), (-2.0, -9.4), (-3.7, -9.2), (-4.1, -9.7), (-5.5, -9.5),
    (1.7, -6.2), (1.5, -4.6), (2.6, -4.2), (0.2, -6.2), (1.2, -7.0), (0.3, -7.7),
]


def to_df(pairs, xname, yname):
    return pd.DataFrame(pairs, columns=[xname, yname])


disk_c = to_df(disk_cmd, 'col', 'mag')
bulge_c = to_df(bulge_cmd, 'col', 'mag')
ref_c = to_df(ref_cmd, 'col', 'mag')
field = pd.DataFrame([(c, m) for m, cs in field_rows for c in cs] + field_sparse, columns=['col', 'mag'])
disk_p = to_df(disk_pm, 'ra', 'dec')
ref_p = to_df(ref_pm, 'ra', 'dec')
bulge_p = to_df(bulge_pm, 'ra', 'dec')

sns.set_style('ticks')
plt.rcParams['font.family'] = ['Liberation Serif', 'DejaVu Serif']
plt.rcParams['mathtext.fontset'] = 'dejavuserif'

GREEN = '#19f019'
BLUE = '#0000f5'
MAG = '#ff19ff'

fig = plt.figure(figsize=(8.3, 8.3), dpi=100)
ax1 = fig.add_axes([0.1084, 0.1072, 0.3663, 0.8386])
ax2 = fig.add_axes([0.5804, 0.569, 0.3675, 0.377])
ax3 = fig.add_axes([0.5804, 0.1072, 0.3675, 0.3767])

# CMD
sns.scatterplot(data=field, x='col', y='mag', ax=ax1, color='black', s=5, linewidth=0, alpha=0.5, legend=False)
sns.scatterplot(data=bulge_c, x='col', y='mag', ax=ax1, color='black', marker='x', s=12, linewidth=0.8, legend=False)
sns.scatterplot(data=disk_c, x='col', y='mag', ax=ax1, color=BLUE, marker='s', s=30, linewidth=0, legend=False)
sns.scatterplot(data=ref_c, x='col', y='mag', ax=ax1, color=MAG, marker='s', s=11, linewidth=0, legend=False)
ax1.scatter([nb_col], [nb_mag], s=150, color='red', zorder=5)
ax1.scatter([src_col], [src_mag], s=150, color=GREEN, zorder=5)
ax1.set_xlim(1, 4)
ax1.set_ylim(26, 15)
ax1.xaxis.set_major_locator(MultipleLocator(1))
ax1.xaxis.set_minor_locator(MultipleLocator(0.2))
ax1.yaxis.set_major_locator(MultipleLocator(2))
ax1.yaxis.set_minor_locator(MultipleLocator(0.5))
ax1.set_xlabel('F606W\u2212F814W', fontsize=11, fontweight='bold', labelpad=2)
ax1.set_ylabel('F606W', fontsize=11, fontweight='bold', labelpad=4)

handles = [
    Line2D([], [], ls='none', marker='o', ms=12, color=GREEN),
    Line2D([], [], ls='none', marker='o', ms=12, color='red'),
    Line2D([], [], ls='none', marker='x', ms=3.5, mew=1.0, color='black'),
    Line2D([], [], ls='none', marker='s', ms=3.5, color=BLUE),
    Line2D([], [], ls='none', marker='s', ms=3.5, color=MAG),
]
labels = ['SOURCE', 'NEIGHBOR', 'BULGE\u2212LIKE', 'DISK\u2212LIKE', 'REFERENCE STARS']
ax1.legend(handles, labels, loc='upper left', bbox_to_anchor=(0.028, 0.206), frameon=False,
           borderpad=0, borderaxespad=0, handlelength=1.0, handletextpad=0.6, labelspacing=0.3,
           prop={'size': 10.5, 'weight': 'bold', 'family': ['Liberation Sans', 'DejaVu Sans']},
           labelcolor=[GREEN, 'red', 'black', BLUE, MAG])

# proper motion panels
sns.scatterplot(data=disk_p, x='ra', y='dec', ax=ax2, color=BLUE, marker='s', s=30, linewidth=0, legend=False)
sns.scatterplot(data=ref_p, x='ra', y='dec', ax=ax2, color=MAG, marker='s', s=11, linewidth=0, legend=False)
ax2.scatter([src_pmra], [src_pmdec], s=150, color=GREEN, zorder=5)

sns.scatterplot(data=bulge_p, x='ra', y='dec', ax=ax3, color='black', marker='x', s=12, linewidth=0.8, legend=False)
sns.scatterplot(data=ref_p, x='ra', y='dec', ax=ax3, color=MAG, marker='s', s=11, linewidth=0, legend=False)
ax3.scatter([src_pmra], [src_pmdec], s=150, color=GREEN, zorder=5)

for ax in (ax2, ax3):
    ax.axhline(0, color='black', ls=(0, (1, 2.5)), lw=1.4, zorder=0)
    ax.axvline(0, color='black', ls=(0, (1, 2.5)), lw=1.4, zorder=0)
    ax.set_xlim(10.1, -14)
    ax.set_ylim(-16, 8)
    ax.xaxis.set_major_locator(MultipleLocator(5))
    ax.xaxis.set_minor_locator(MultipleLocator(1))
    ax.yaxis.set_major_locator(MultipleLocator(5))
    ax.yaxis.set_minor_locator(MultipleLocator(1))
    ax.set_xlabel(r'$\mu_{\rm RA}$ (mas yr$^{-1}$)', fontsize=11, fontweight='bold', labelpad=2)
    ax.set_ylabel(r'$\mu_{\rm Dec}$ (mas yr$^{-1}$)', fontsize=11, fontweight='bold', labelpad=2)

for ax in (ax1, ax2, ax3):
    for sp in ax.spines.values():
        sp.set_visible(True)
        sp.set_linewidth(1.4)
    ax.tick_params(which='both', direction='in', top=True, right=True, width=1.2, labelsize=11)
    ax.tick_params(which='major', length=7)
    ax.tick_params(which='minor', length=3.5)
    for lab in ax.get_xticklabels() + ax.get_yticklabels():
        lab.set_fontweight('bold')
        lab.set_family(['Liberation Sans', 'DejaVu Sans'])

fig.savefig('out.png', dpi=100)
